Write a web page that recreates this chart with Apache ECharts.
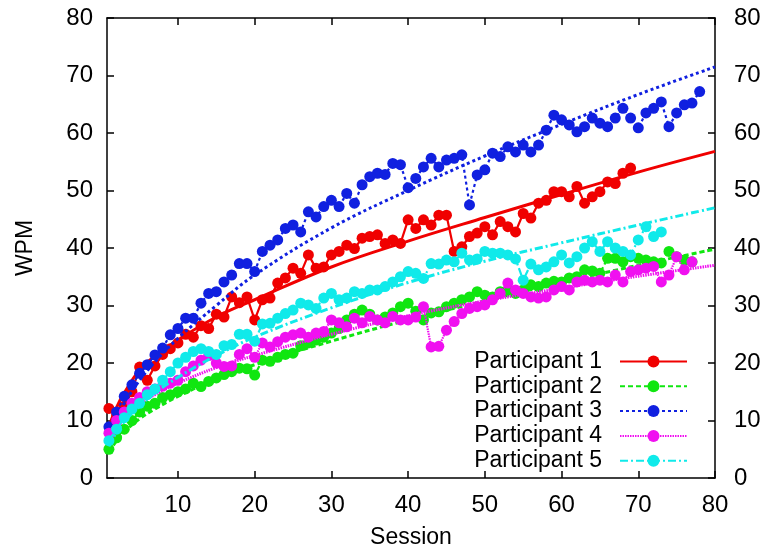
<!DOCTYPE html>
<html>
<head>
<meta charset="utf-8">
<script src="https://cdn.jsdelivr.net/npm/echarts@6/dist/echarts.min.js"></script>
<style>
  html, body { margin: 0; padding: 0; background: #fff; }
  #chart { width: 769px; height: 550px; }
</style>
</head>
<body>
<div id="chart"></div>
<script>
// WPM per session, session number = index + 1
const wpm1 = [12.1, 11, 12.5, 15, 19.3, 17, 19.5, 21.5, 22.5, 23.5, 25, 24.5, 26.5, 26, 28.5, 28, 31.5, 30.5, 31.5, 27.5,
  31, 31.3, 33.9, 34.8, 36.5, 35.6, 38.8, 36.5, 36.7, 38.8, 39.4, 40.5, 39.9, 41.7, 42, 42.3, 40.8, 41.4, 40.8, 44.9,
  43.4, 44.9, 44, 45.7, 45.7, 39.4, 40.2, 42, 42.6, 43.7, 42.3, 44.6, 43.7, 42.8, 46, 45.2, 47.8, 48.3, 49.8, 49.8,
  48.9, 50.7, 47.8, 48.9, 49.8, 51.5, 51.2, 53, 53.9];
const wpm2 = [5, 7, 8.5, 10, 11.5, 12.5, 13, 14, 14.5, 15, 15.5, 16.5, 15.9, 16.8, 17.4, 18, 18.5, 19.1, 19, 17.9,
  20.5, 20.3, 21, 21.5, 21.7, 23, 23.5, 24, 24.5, 25.2, 26, 27.5, 28.5, 29.2, 28.5, 27.5, 28, 28.7, 29.8, 30.4,
  29, 27.5, 28.7, 28.9, 29.8, 30.4, 31, 31.5, 32.4, 31.8, 31.5, 32.4, 32.7, 32.1, 32.7, 33.6, 33.3, 33.9, 34.2, 34.1,
  34.8, 35, 36.2, 36, 35.6, 38.2, 38.2, 37.6, 38.5, 38.2, 37.9, 37.6, 37.4, 39.4, 38.5, 37.9, 37.6];
const wpm3 = [8.9, 11.5, 14.2, 16.2, 18.2, 19.7, 21.4, 22.6, 24.9, 26, 27.8, 27.8, 30.4, 32.1, 32.4, 34.1, 35.3, 37.3, 37.3, 35.9,
  39.4, 40.5, 41.4, 43.4, 44, 42.8, 46.3, 45.4, 47.2, 48.3, 47.2, 49.5, 47.8, 51, 52.4, 53, 52.8, 54.7, 54.5, 50.5,
  52.1, 54.1, 55.6, 54.1, 55.3, 55.6, 56.2, 47.5, 52.7, 53.6, 56.5, 55.9, 57.6, 56.7, 57.9, 56.7, 57.9, 60.5, 63.1, 62.3,
  61.4, 60.2, 61.1, 62.6, 61.7, 61.1, 62.6, 64.3, 62.6, 60.9, 63.5, 64.3, 65.4, 61.1, 63.5, 64.9, 65.2, 67.2];
const wpm4 = [7.8, 10, 11.5, 13, 14, 15, 15.5, 16, 16.5, 17, 18.5, 19.5, 20.5, 21.3, 20, 19.4, 19.5, 21.5, 22.5, 21,
  23.5, 22.8, 23.7, 24.5, 24.9, 25.2, 24.5, 25.2, 25.5, 27.5, 27, 26.3, 27.8, 27, 28.1, 27.5, 27, 28.1, 27.5, 27.5,
  28, 29.8, 22.8, 22.9, 25.7, 27.2, 28.6, 29.5, 29.8, 30.1, 31, 32.1, 33.9, 32.7, 32.1, 31.5, 31.3, 31.5, 32.7, 33.3,
  32.7, 34.1, 34.4, 34.1, 34.4, 34.1, 35.3, 34.1, 35.9, 36.2, 36.5, 36.8, 34.1, 35.3, 38.5, 36.2, 37.6];
const wpm5 = [6.5, 8.5, 10.5, 12, 13, 14.5, 15.5, 17, 18.5, 20, 21, 22, 22.5, 22, 21.5, 23, 23.2, 25, 25, 23.8,
  26.8, 26.9, 27.8, 28.6, 29.2, 30.4, 30.1, 29.5, 31.3, 32.1, 31, 31.3, 32.4, 32.1, 32.7, 32.7, 33.3, 34.1, 35, 35.9,
  35.6, 34.7, 37.3, 37.2, 37.9, 37.6, 39.1, 37.9, 38.1, 39.4, 39.1, 39.1, 38.8, 38.1, 34.4, 37.2, 36.2, 36.7, 37.6, 38.8,
  37.4, 38.5, 40, 41.1, 39.4, 41.1, 40, 39.4, 38.8, 41.4, 43.7, 42, 42.8];

// fitted curves
const fitX = [1, 2, 3, 5, 7, 10, 15, 20, 30, 40, 50, 60, 70, 80];
const fit1 = [9, 12.3, 14.8, 18.8, 21.2, 24, 28, 31, 36.7, 41.2, 45.3, 49.3, 53.2, 56.8];
const fit2 = [4.5, 6.5, 8, 10.3, 12, 14.2, 17.2, 19.7, 23.8, 27.5, 30.8, 34, 37, 39.8];
const fit3 = [7, 10.5, 13, 17, 20.2, 24.3, 30, 35.3, 43.5, 50, 56, 61.5, 66.7, 71.5];
const fit4 = [6, 8.5, 10.2, 12.8, 14.5, 16.5, 19.2, 21.3, 25, 28.2, 30.8, 33, 35.1, 37];
const fit5 = [5.5, 8, 9.8, 12.5, 14.8, 17.5, 21.3, 24.5, 29.6, 34, 37.7, 40.9, 44, 47];

const names = ['Participant 1', 'Participant 2', 'Participant 3', 'Participant 4', 'Participant 5'];
const xTicks = [10, 20, 30, 40, 50, 60, 70, 80];

const colors = ['#f00000', '#10e610', '#1020e0', '#f010f0', '#10eaea'];
const dashes = ['solid', [5, 3], [3, 3], [1.5, 1], [8, 3, 2, 3]];
const wpm = [wpm1, wpm2, wpm3, wpm4, wpm5];
const fits = [fit1, fit2, fit3, fit4, fit5];

const font = 'Liberation Sans, Arial, Helvetica, sans-serif';

let series = [];
wpm.forEach((list, k) => {
  series.push({
    name: names[k],
    type: 'line',
    data: list.map((v, i) => [i + 1, v]),
    symbol: 'circle',
    symbolSize: 11,
    itemStyle: { color: colors[k] },
    lineStyle: { color: colors[k], width: 2.2, type: dashes[k] },
    z: 2 + k
  });
  series.push({
    name: names[k] + ' fit',
    type: 'line',
    data: fitX.map((x, i) => [x, fits[k][i]]),
    smooth: 0.4,
    symbol: 'none',
    lineStyle: { color: colors[k], width: 3, type: dashes[k] },
    z: 2 + k
  });
});

const chart = echarts.init(document.getElementById('chart'));

const tickStyle = { inside: true, length: 7, lineStyle: { color: '#000', width: 1.5 } };
const lineStyle = { show: true, onZero: false, lineStyle: { color: '#000', width: 1.5 } };

chart.setOption({
  backgroundColor: '#fff',
  animation: false,
  textStyle: { fontFamily: font },
  grid: { left: 107, right: 54, top: 18, bottom: 72, containLabel: false, outerBoundsMode: 'none' },
  legend: {
    data: names,
    orient: 'vertical',
    right: 76,
    top: 345,
    align: 'right',
    itemWidth: 67,
    itemHeight: 15,
    itemGap: 1.8,
    textStyle: { fontSize: 23, color: '#000', fontFamily: font, padding: [0, 13, 0, 0] }
  },
  xAxis: [{
    type: 'value',
    min: 0.75,
    max: 80,
    position: 'bottom',
    name: 'Session',
    nameLocation: 'middle',
    nameGap: 48,
    nameTextStyle: { fontSize: 23, color: '#000', fontFamily: font },
    axisLine: lineStyle,
    axisTick: Object.assign({ customValues: xTicks }, tickStyle),
    axisLabel: { customValues: xTicks, fontSize: 24, color: '#000', margin: 15, fontFamily: font },
    splitLine: { show: false }
  }, {
    type: 'value',
    min: 0.75,
    max: 80,
    position: 'top',
    axisLine: lineStyle,
    axisTick: Object.assign({ customValues: xTicks }, tickStyle),
    axisLabel: { show: false, customValues: xTicks },
    splitLine: { show: false }
  }],
  yAxis: [{
    type: 'value',
    min: 0,
    max: 80,
    interval: 10,
    position: 'left',
    name: 'WPM',
    nameLocation: 'middle',
    nameGap: 70,
    nameRotate: 90,
    nameTextStyle: { fontSize: 23, color: '#000', fontFamily: font },
    axisLine: lineStyle,
    axisTick: tickStyle,
    axisLabel: { fontSize: 24, color: '#000', margin: 14, fontFamily: font },
    splitLine: { show: false }
  }, {
    type: 'value',
    min: 0,
    max: 80,
    interval: 10,
    position: 'right',
    axisLine: lineStyle,
    axisTick: tickStyle,
    axisLabel: { fontSize: 24, color: '#000', margin: 19, fontFamily: font },
    splitLine: { show: false }
  }],
  series: series
});
</script>
</body>
</html>
